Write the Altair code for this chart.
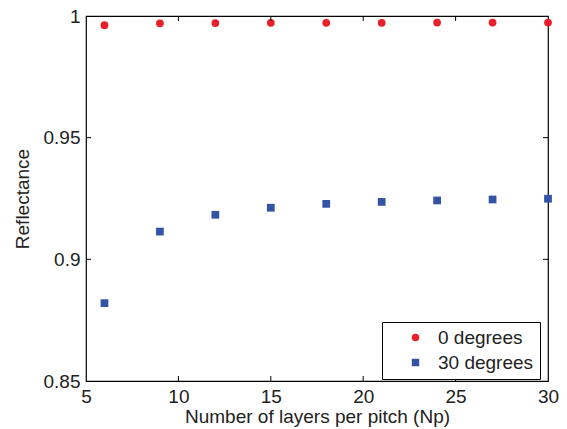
import altair as alt
import pandas as pd

# Reflectance versus number of layers per pitch
layers = [6, 9, 12, 15, 18, 21, 24, 27, 30]
refl_0deg = [0.9962, 0.9970, 0.9971, 0.9972, 0.9972, 0.9972, 0.9973, 0.9973, 0.9973]
refl_30deg = [0.8820, 0.9114, 0.9183, 0.9212, 0.9228, 0.9236, 0.9242, 0.9246, 0.9249]
series_names = ["0 degrees", "30 degrees"]
series_colors = ["#E8202A", "#3353A4"]
series_shapes = ["circle", "square"]

x_ticks = [5, 10, 15, 20, 25, 30]
y_ticks = [0.85, 0.9, 0.95, 1.0]
x_inner_ticks = [10, 15, 20, 25]
y_inner_ticks = [0.9, 0.95]

df = pd.DataFrame({
    "Np": layers * 2,
    "R": refl_0deg + refl_30deg,
    "series": [series_names[0]] * len(layers) + [series_names[1]] * len(layers),
})

FONT = "Liberation Sans"
W, H = 462, 365

xscale = alt.Scale(domain=[5, 30], nice=False, zero=False)
yscale = alt.Scale(domain=[0.85, 1.0], nice=False, zero=False)

points = alt.Chart(df).mark_point(filled=True, opacity=1, size=60).encode(
    x=alt.X("Np:Q", scale=xscale,
            axis=alt.Axis(values=x_ticks, format="d", title="Number of layers per pitch (Np)",
                          labelFlush=False, labelPadding=6, titlePadding=1)),
    y=alt.Y("R:Q", scale=yscale,
            axis=alt.Axis(values=y_ticks, labelExpr="datum.value == 1 ? '1' : format(datum.value, '.2~f')",
                          title="Reflectance", labelFlush=False, labelPadding=6, titlePadding=11)),
    color=alt.Color("series:N", scale=alt.Scale(domain=series_names, range=series_colors),
                    legend=alt.Legend(title=None, orient="none", legendX=296, legendY=306,
                                      symbolSize=56, labelFontSize=19, labelFont=FONT,
                                      labelColor="#222", strokeColor="black", fillColor="white",
                                      padding=6, rowPadding=5, symbolOffset=18, labelOffset=13,
                                      symbolStrokeWidth=0)),
    shape=alt.Shape("series:N", scale=alt.Scale(domain=series_names, range=series_shapes),
                    legend=alt.Legend(title=None, orient="none", legendX=296, legendY=306)),
)

xt = pd.DataFrame({"v": x_inner_ticks})
yt = pd.DataFrame({"v": y_inner_ticks})

tick_bottom = alt.Chart(xt).mark_rule(color="black", strokeWidth=1).encode(
    x=alt.X("v:Q", scale=xscale), y=alt.value(H), y2=alt.value(H - 5))
tick_top = alt.Chart(xt).mark_rule(color="black", strokeWidth=1).encode(
    x=alt.X("v:Q", scale=xscale), y=alt.value(0), y2=alt.value(5))
tick_left = alt.Chart(yt).mark_rule(color="black", strokeWidth=1).encode(
    y=alt.Y("v:Q", scale=yscale), x=alt.value(0), x2=alt.value(5))
tick_right = alt.Chart(yt).mark_rule(color="black", strokeWidth=1).encode(
    y=alt.Y("v:Q", scale=yscale), x=alt.value(W), x2=alt.value(W - 5))

chart = alt.layer(points, tick_bottom, tick_top, tick_left, tick_right).properties(
    width=W, height=H,
    autosize=alt.AutoSizeParams(type="none"),
    padding={"left": 86, "top": 16, "right": 19, "bottom": 48},
    background="white",
).configure_view(
    stroke="black", strokeWidth=1.2
).configure_axis(
    domain=False, ticks=False, grid=False,
    labelFont=FONT, labelFontSize=19, labelColor="#222",
    titleFont=FONT, titleFontSize=19, titleColor="#222", titleFontWeight="normal",
)

chart.save("out.html", embed_options={"renderer": "svg", "actions": False})
